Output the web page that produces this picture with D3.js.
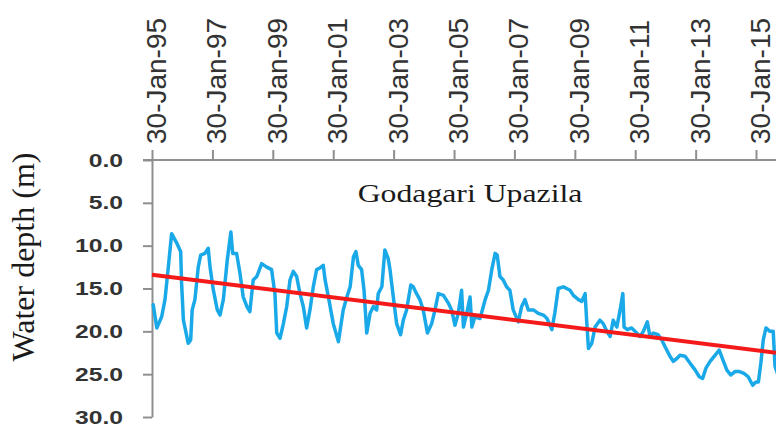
<!DOCTYPE html>
<html><head><meta charset="utf-8">
<script src="https://cdn.jsdelivr.net/npm/d3@7"></script>
<style>html,body{margin:0;padding:0;background:#fff;} svg{display:block;}</style>
</head><body><svg id="c" width="776" height="426"></svg>
<script>
// ---- data ----
const tickYears = [1995, 1997, 1999, 2001, 2003, 2005, 2007, 2009, 2011, 2013, 2015];
const tickLabels = ["30-Jan-95","30-Jan-97","30-Jan-99","30-Jan-01","30-Jan-03","30-Jan-05","30-Jan-07","30-Jan-09","30-Jan-11","30-Jan-13","30-Jan-15"];
const yTicks = [0, 5, 10, 15, 20, 25, 30];
const depthYears = [
 1995.12,1995.24,1995.40,1995.51,1995.62,1995.73,1995.90,1996.03,1996.06,1996.12,1996.28,1996.36,1996.41,1996.50,1996.61,1996.69,1996.83,1996.94,
 1997.00,1997.11,1997.24,1997.33,1997.44,1997.57,1997.69,1997.75,1997.88,1997.99,1998.10,1998.22,1998.32,1998.43,1998.55,1998.71,1998.88,
 1999.04,1999.15,1999.21,1999.32,1999.43,1999.54,1999.65,1999.76,1999.87,1999.98,2000.09,2000.20,2000.31,2000.42,2000.53,2000.64,2000.75,2000.81,2000.92,
 2001.08,2001.25,2001.41,2001.53,2001.64,2001.75,2001.83,2001.91,2002.02,2002.10,2002.19,2002.30,2002.41,2002.52,2002.57,2002.69,2002.79,2002.90,2002.96,
 2003.07,2003.18,2003.31,2003.40,2003.51,2003.65,2003.73,2003.84,2003.95,2004.06,2004.20,2004.34,2004.45,2004.56,2004.73,2004.89,
 2005.00,2005.11,2005.22,2005.33,2005.39,2005.50,2005.61,2005.67,2005.77,2005.94,2006.05,2006.11,2006.22,2006.33,2006.44,2006.51,2006.60,2006.71,2006.82,2006.93,
 2007.04,2007.21,2007.32,2007.43,2007.54,2007.71,2007.87,2008.04,2008.16,2008.32,2008.42,2008.53,2008.70,2008.92,
 2009.03,2009.20,2009.31,2009.42,2009.47,2009.53,2009.64,2009.75,2009.91,2010.02,2010.14,2010.25,2010.35,2010.47,2010.58,2010.67,2010.71,2010.82,2010.96,
 2011.13,2011.24,2011.35,2011.48,2011.57,2011.68,2011.84,2011.96,2012.07,2012.23,2012.34,2012.45,2012.56,2012.73,2012.89,
 2013.06,2013.20,2013.31,2013.42,2013.56,2013.72,2013.86,2013.98,2014.11,2014.24,2014.38,2014.53,2014.68,2014.82,2014.97,
 2015.08,2015.16,2015.24,2015.32,2015.41,2015.54,2015.65,2015.71,2015.80
];
const depthValues = [
 16.9,19.6,18.3,16.3,12.5,8.6,9.7,10.7,14.4,18.7,21.4,21.0,17.5,16.3,12.5,11.1,10.9,10.3,
 12.5,15.2,17.5,18.1,16.3,11.7,8.4,10.9,10.9,13.2,16.0,17.1,17.7,14.0,13.6,12.1,12.5,
 12.8,15.6,20.2,20.8,19.1,17.1,14.0,13.0,13.6,15.6,17.1,19.6,17.5,14.8,12.8,12.6,12.3,14.0,16.0,
 19.1,21.2,17.5,16.0,14.8,11.3,10.7,12.3,12.8,15.2,20.2,17.9,17.1,17.5,15.6,14.8,10.5,11.5,12.8,
 16.0,19.1,20.4,18.7,17.5,14.6,14.8,15.6,16.3,17.5,20.2,19.1,17.5,15.6,15.8,16.7,
 17.5,19.3,17.9,15.2,19.5,17.9,16.0,19.5,18.3,18.5,17.1,16.3,15.2,12.8,10.9,11.1,13.6,14.0,14.8,15.2,
 17.5,18.9,17.1,16.3,17.5,17.5,17.9,18.1,18.5,19.8,17.8,15.0,14.8,15.2,
 15.8,16.3,16.5,15.6,18.7,22.0,21.4,19.5,18.7,19.1,20.0,20.6,18.7,19.5,17.5,15.6,19.5,19.8,19.6,
 20.2,20.6,20.0,18.9,20.6,20.2,20.4,21.0,21.8,22.9,23.5,23.2,22.8,22.9,23.7,
 24.5,25.3,25.5,24.3,23.5,22.8,22.2,23.3,24.5,25.1,24.7,24.7,24.9,25.3,26.3,
 25.9,25.9,23.7,21.0,19.6,20.0,20.0,24.1,25.0
];
const trendYears = [1995.079, 2015.74];
const trendValues = [13.4, 22.5];
const chartTitle = "Godagari Upazila";
const yAxisTitle = "Water depth (m)";

// ---- helpers ----
function yearToDate(y){
  const Y = Math.floor(y), s = new Date(Y,0,1), e = new Date(Y+1,0,1);
  return new Date(+s + (y - Y) * (e - s));
}
const tickDates = tickYears.map(y => new Date(y, 0, 30));

const W = 776, H = 426;
const svg = d3.select("#c");
const x = d3.scaleTime().domain([tickDates[0], tickDates[tickDates.length-1]]).range([152, 756]);
const y = d3.scaleLinear().domain([0, 30]).range([160, 417]);
const axisColor = "#8f8f8f";

// top axis line (spans to the right edge)
svg.append("line").attr("x1", 143).attr("x2", W).attr("y1", y(0)).attr("y2", y(0))
  .attr("stroke", axisColor).attr("stroke-width", 2);

// x axis (top)
const gx = svg.append("g").attr("transform", `translate(0,${y(0)})`)
  .call(d3.axisTop(x).tickValues(tickDates).tickFormat((d,i)=>tickLabels[i]).tickSize(10).tickSizeOuter(0));
gx.select(".domain").remove();
gx.selectAll(".tick line").attr("stroke", axisColor).attr("stroke-width", 2);
gx.selectAll(".tick text")
  .attr("x", 0).attr("y", 0).attr("dy", null)
  .attr("text-anchor", "start")
  .attr("transform", "translate(13.5,-16) rotate(-90)")
  .attr("font-family", "'Liberation Sans', Arial, sans-serif")
  .attr("font-size", 28).attr("fill", "#333");

// y axis
const gy = svg.append("g").attr("transform", `translate(152,0)`)
  .call(d3.axisLeft(y).tickValues(yTicks).tickFormat(d3.format(".1f")).tickSize(9).tickSizeOuter(0));
gy.select(".domain").attr("stroke", axisColor).attr("stroke-width", 2);
gy.selectAll(".tick line").attr("stroke", axisColor).attr("stroke-width", 2);
gy.selectAll(".tick text")
  .attr("x", 0).attr("dy", null).attr("y", 0)
  .attr("text-anchor", "end")
  .attr("transform", "translate(-29,6) scale(1.3,1)")
  .attr("font-family", "'Liberation Sans', Arial, sans-serif")
  .attr("font-weight", "bold")
  .attr("font-size", 19).attr("fill", "#333");

// depth line
const pts = depthYears.map((yr,i)=>({d: yearToDate(yr), v: depthValues[i]}));
const line = d3.line().x(p=>x(p.d)).y(p=>y(p.v));
svg.append("path").datum(pts).attr("d", line)
  .attr("fill", "none").attr("stroke", "#1aa9e8").attr("stroke-width", 3.5)
  .attr("stroke-linejoin", "round").attr("stroke-linecap", "round");

// trend line
const tr = trendYears.map((yr,i)=>({d: yearToDate(yr), v: trendValues[i]}));
svg.append("path").datum(tr).attr("d", line)
  .attr("fill", "none").attr("stroke", "#f41a1a").attr("stroke-width", 4);

// title
svg.append("text").text(chartTitle)
  .attr("transform", "translate(470,201.5) scale(1.27,1)")
  .attr("text-anchor", "middle")
  .attr("font-family", "'Liberation Serif', 'Times New Roman', serif")
  .attr("font-size", 25).attr("fill", "#1a1a1a");

// y axis title
svg.append("text").text(yAxisTitle)
  .attr("transform", "translate(33.5,257) rotate(-90)")
  .attr("text-anchor", "middle")
  .attr("font-family", "'Liberation Serif', 'Times New Roman', serif")
  .attr("font-size", 32).attr("fill", "#1a1a1a");
</script>
</body></html>
